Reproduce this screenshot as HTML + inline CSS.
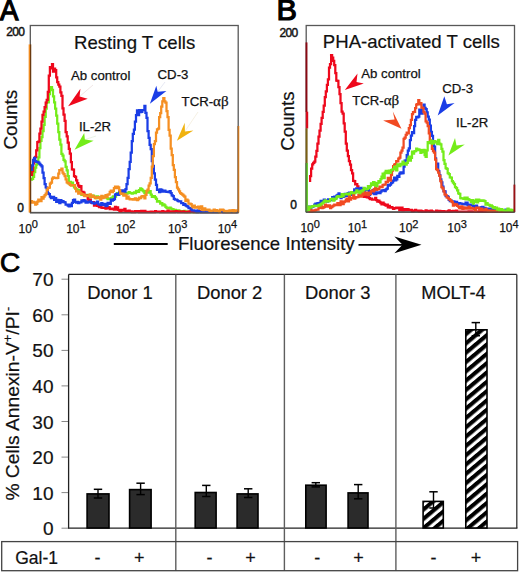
<!DOCTYPE html>
<html><head><meta charset="utf-8"><title>Figure</title>
<style>
html,body{margin:0;padding:0;background:#fff;}
body{width:520px;height:573px;overflow:hidden;font-family:"Liberation Sans", sans-serif;}
svg{display:block;}
text{stroke:#111;stroke-width:0.2px;}
text.sm{stroke-width:0.25px;}
text.bd{stroke:none;}
</style></head><body>
<svg width="520" height="573" viewBox="0 0 520 573" font-family="Liberation Sans, sans-serif" fill="#111">
<defs><pattern id="hatch" patternUnits="userSpaceOnUse" width="7.14" height="7.14" patternTransform="translate(476,450) rotate(-40) translate(0,2.67)"><rect width="7.14" height="7.14" fill="#fff"/><rect width="7.14" height="4.07" fill="#000"/></pattern></defs>
<rect width="520" height="573" fill="#fff"/>
<text x="0" y="19.7" font-size="30" fill="#000" style="stroke:#000;stroke-width:1.3px" transform="scale(0.92 1)">A</text>
<text x="6.3" y="36.2" font-size="12.0" class="sm" text-anchor="start" letter-spacing="-0.7" style="stroke-width:0.45px">200</text>
<text x="17.3" y="211.7" font-size="12.0" class="sm" text-anchor="start" style="stroke-width:0.45px">0</text>
<text transform="translate(17.2,149.6) rotate(-90)" font-size="18.9">Counts</text>
<rect x="30.3" y="25.5" width="207.9" height="187.0" fill="none" stroke="#585858" stroke-width="1.3"/>
<path d="M31.0 179.7H32.0V178.8H33.1V176.8H34.1V172.0H35.2V167.6H36.2V164.7H37.3V161.2H38.3V157.4H39.4V148.0H40.4V140.9H41.5V137.2H42.5V131.0H43.6V124.8H44.6V116.8H45.7V108.5H46.7V102.3H47.8V102.3H48.8V94.2H49.9V90.0H50.9V87.0H52.0V89.8H53.0V96.4H54.1V102.4H55.1V108.5H56.2V115.6H57.2V123.5H58.3V132.1H59.3V139.6H60.4V144.5H61.4V153.9H62.5V155.7H63.5V159.8H64.6V161.3H65.6V166.8H66.7V170.4H67.7V176.2H68.8V183.6H69.8V181.8H70.9V183.8H71.9V182.6H73.0V185.0H74.0V187.4H75.1V188.0H76.1V189.4H77.2V190.1H78.2V190.0H79.3V192.4H80.3V191.9H81.4V194.9H82.4V193.3H83.5V194.8H84.5V194.8H85.6V195.9H86.6V194.8H87.7V196.4H88.7V195.6H89.8V197.0H90.8V196.6H91.9V196.3H92.9V195.6H94.0V197.0H95.0V196.9H96.1V198.0H97.1V196.4H98.2V197.3H99.2V197.3H100.3V197.3H101.3V197.3H102.4V197.4H103.4V196.8H104.5V196.6H105.5V197.2H106.6V198.1H107.6V199.0H108.7V198.7H109.7V198.8H110.8V198.2H111.8V197.5H112.9V196.4H113.9V196.3H115.0V196.5H116.0V194.1H117.1V193.1H118.1V194.9H119.2V192.7H120.2V192.9H121.3V193.0H122.3V191.5H123.4V194.9H124.4V194.5H125.5V193.2H126.5V193.7H127.6V193.1H128.6V192.2H129.7V192.9H130.7V193.2H131.8V193.6H132.8V193.1H133.9V192.3H134.9V193.2H136.0V190.9H137.0V191.9H138.1V191.8H139.1V190.1H140.2V188.3H141.2V189.2H142.3V190.4H143.3V191.4H144.4V193.0H145.4V191.1H146.5V192.0H147.5V192.6H148.6V192.3H149.6V191.1H150.7V194.7H151.8V196.8H152.8V196.6H153.9V196.0H154.9V197.4H156.0V198.9H157.0V201.7H158.1V201.1H159.1V201.6H160.2V203.5H161.2V203.2H162.3V205.4H163.3V204.4H164.4V205.4H165.4V206.9H166.5V207.9H167.5V208.0H168.6V208.4H169.6V207.7H170.7V208.7H171.7V209.0H172.8V209.3H173.8V210.1H174.9V209.8H175.9V210.6H177.0V210.4H178.0V210.4H179.1V210.9H180.1V211.2H181.2V211.5H182.2V211.0H183.3V211.2H184.3V210.8H185.4V212.0H186.4V212.0H187.5V211.7H188.5V211.6H189.6V211.5H190.6V212.0H191.7V212.0H192.7V212.0H193.8V212.0H194.8V211.7H195.9V211.1H196.9V212.0H198.0V212.0H199.0V211.4H200.1V212.0H201.1V211.4H202.2V212.0H203.2V212.0H204.3V212.0H205.3V211.9H206.4V211.2H207.4V212.0H208.5V211.4H209.5V212.0H210.6V211.2H211.6V211.7H212.7V212.0H213.7V212.0H214.8V211.6H215.8V211.4H216.9V212.0H217.9V212.0H219.0V211.6H220.0V211.7H221.1V211.7H222.1V211.6H223.2V211.7H224.2V212.0H225.3V212.0H226.3V212.0H227.4V212.0H228.4V211.9H229.5V211.6H230.5V212.0H231.6V211.5H232.6V211.3H233.7V212.0H234.7V212.0H235.8V212.0H236.8V212.0H237.5" stroke="#74ec1a" stroke-width="2.25" fill="none" stroke-linejoin="miter"/>
<path d="M31.0 174.8H32.0V171.1H33.1V163.3H34.1V158.0H35.2V156.8H36.2V150.3H37.3V142.1H38.3V141.7H39.4V133.7H40.4V128.6H41.5V121.5H42.5V114.8H43.6V111.5H44.6V107.0H45.7V102.7H46.7V99.8H47.8V91.8H48.8V75.7H49.9V67.1H50.9V68.4H52.0V64.2H53.0V71.5H54.1V68.5H55.1V70.1H56.2V77.3H57.2V82.0H58.3V84.5H59.3V86.6H60.4V92.4H61.4V95.9H62.5V108.4H63.5V114.7H64.6V120.9H65.6V132.2H66.7V136.3H67.7V142.5H68.8V148.8H69.8V153.7H70.9V162.1H71.9V169.3H73.0V169.7H74.0V176.1H75.1V176.9H76.1V180.4H77.2V183.1H78.2V185.7H79.3V187.1H80.3V186.0H81.4V192.7H82.4V191.8H83.5V192.6H84.5V195.6H85.6V195.3H86.6V195.7H87.7V199.3H88.7V200.2H89.8V199.7H90.8V202.5H91.9V202.9H92.9V202.0H94.0V205.7H95.0V204.8H96.1V203.9H97.1V205.9H98.2V206.0H99.2V207.2H100.3V205.3H101.3V207.7H102.4V207.8H103.4V207.7H104.5V207.8H105.5V208.6H106.6V208.2H107.6V207.8H108.7V207.1H109.7V209.0H110.8V209.1H111.8V208.7H112.9V208.8H113.9V209.5H115.0V206.9H116.0V209.5H117.1V207.4H118.1V209.9H119.2V210.7H120.2V211.6H121.3V209.8H122.3V210.7H123.4V210.4H124.4V208.9H125.5V211.3H126.5V210.9H127.6V211.1H128.6V210.5H129.7V211.3H130.7V211.4H131.8V212.0H132.8V211.6H133.9V212.0H134.9V211.2H136.0V211.4H137.0V211.5H138.1V211.1H139.1V212.0H140.2V212.0H141.2V210.9H142.3V211.8H143.3V212.0H144.4V210.9H145.4V212.0H146.5V211.8H147.5V212.0H148.6V212.0H149.6V211.8H150.7V211.7H151.8V212.0H152.8V211.8H153.9V212.0H154.9V211.2H156.0V211.9H157.0V211.9H158.1V211.6H159.1V211.9H160.2V212.0H161.2V211.7H162.3V211.2H163.3V212.0H164.4V212.0H165.4V211.6H166.5V212.0H167.5V210.6H168.6V212.0H169.6V211.3H170.7V211.7H171.7V212.0H172.8V211.3H173.8V212.0H174.9V211.4H175.9V211.0H177.0V211.4H178.0V212.0H179.1V211.3H180.1V211.7H181.2V212.0H182.2V211.9H183.3V211.3H184.3V212.0H185.4V212.0H186.4V212.0H187.5V211.5H188.5V212.0H189.6V211.3H190.6V211.1H191.7V211.8H192.7V211.8H193.8V212.0H194.8V211.7H195.9V212.0H196.9V212.0H198.0V211.7H199.0V211.3H200.1V211.8H201.1V212.0H202.2V212.0H203.2V211.8H204.3V211.5H205.3V212.0H206.4V212.0H207.4V211.6H208.5V212.0H209.5V212.0H210.6V212.0H211.6V211.7H212.7V212.0H213.7V212.0H214.8V211.2H215.8V212.0H216.9V211.8H217.9V212.0H219.0V212.0H220.0V211.7H221.1V212.0H222.1V211.8H223.2V211.6H224.2V212.0H225.3V212.0H226.3V212.0H227.4V212.0H228.4V211.7H229.5V212.0H230.5V212.0H231.6V212.0H232.6V212.0H233.7V212.0H234.7V211.2H235.8V212.0H236.8V212.0H237.5" stroke="#ee081c" stroke-width="2.25" fill="none" stroke-linejoin="miter"/>
<path d="M31.0 169.9H32.0V165.3H33.1V159.8H34.1V157.8H35.2V161.0H36.2V161.9H37.3V161.8H38.3V162.7H39.4V163.9H40.4V165.1H41.5V166.4H42.5V172.5H43.6V178.1H44.6V184.2H45.7V187.3H46.7V188.3H47.8V193.4H48.8V194.1H49.9V196.7H50.9V198.2H52.0V198.2H53.0V196.8H54.1V199.8H55.1V198.1H56.2V201.8H57.2V199.9H58.3V200.8H59.3V203.2H60.4V200.0H61.4V202.0H62.5V201.2H63.5V202.0H64.6V202.3H65.6V204.6H66.7V204.6H67.7V205.7H68.8V206.3H69.8V204.6H70.9V206.0H71.9V202.9H73.0V200.0H74.0V199.5H75.1V201.8H76.1V202.7H77.2V201.8H78.2V203.0H79.3V202.4H80.3V202.4H81.4V200.4H82.4V201.3H83.5V200.0H84.5V200.7H85.6V202.6H86.6V202.7H87.7V201.6H88.7V202.0H89.8V201.4H90.8V202.2H91.9V203.0H92.9V202.8H94.0V203.5H95.0V202.7H96.1V202.9H97.1V201.5H98.2V204.4H99.2V204.4H100.3V205.2H101.3V203.2H102.4V204.6H103.4V204.8H104.5V203.9H105.5V206.1H106.6V205.7H107.6V202.8H108.7V203.7H109.7V203.9H110.8V199.6H111.8V200.6H112.9V199.9H113.9V199.2H115.0V194.6H116.0V193.9H117.1V194.5H118.1V194.9H119.2V191.3H120.2V191.2H121.3V190.4H122.3V192.7H123.4V190.4H124.4V191.6H125.5V189.0H126.5V184.2H127.6V177.8H128.6V169.0H129.7V161.9H130.7V152.7H131.8V141.2H132.8V133.9H133.9V129.6H134.9V121.6H136.0V115.1H137.0V110.4H138.1V115.2H139.1V110.0H140.2V112.2H141.2V111.9H142.3V110.2H143.3V110.1H144.4V105.9H145.4V112.8H146.5V117.9H147.5V131.2H148.6V137.9H149.6V144.9H150.7V149.1H151.8V161.1H152.8V165.8H153.9V173.4H154.9V179.5H156.0V184.8H157.0V189.9H158.1V189.7H159.1V192.0H160.2V189.3H161.2V189.9H162.3V191.5H163.3V190.8H164.4V190.6H165.4V191.5H166.5V191.8H167.5V191.8H168.6V192.2H169.6V191.1H170.7V193.1H171.7V195.3H172.8V196.1H173.8V198.8H174.9V199.6H175.9V199.5H177.0V200.3H178.0V201.2H179.1V201.3H180.1V201.3H181.2V203.2H182.2V203.2H183.3V204.8H184.3V204.2H185.4V205.4H186.4V206.2H187.5V206.6H188.5V208.0H189.6V208.1H190.6V209.0H191.7V210.3H192.7V210.4H193.8V210.6H194.8V210.5H195.9V211.7H196.9V212.0H198.0V210.4H199.0V212.0H200.1V212.0H201.1V212.0H202.2V212.0H203.2V211.5H204.3V212.0H205.3V211.8H206.4V211.9H207.4V212.0H208.5V212.0H209.5V212.0H210.6V211.8H211.6V211.5H212.7V212.0H213.7V211.5H214.8V212.0H215.8V212.0H216.9V212.0H217.9V211.4H219.0V211.0H220.0V210.9H221.1V211.9H222.1V211.4H223.2V212.0H224.2V211.3H225.3V211.4H226.3V212.0H227.4V211.9H228.4V212.0H229.5V212.0H230.5V212.0H231.6V211.4H232.6V211.6H233.7V212.0H234.7V211.9H235.8V212.0H236.8V212.0H237.5" stroke="#1a3de6" stroke-width="2.25" fill="none" stroke-linejoin="miter"/>
<path d="M31.0 201.2H32.0V202.5H33.1V201.8H34.1V202.4H35.2V204.6H36.2V203.8H37.3V201.7H38.3V199.7H39.4V199.9H40.4V201.0H41.5V197.1H42.5V198.6H43.6V196.7H44.6V195.1H45.7V193.5H46.7V189.9H47.8V187.9H48.8V187.7H49.9V183.6H50.9V182.5H52.0V178.6H53.0V177.3H54.1V177.9H55.1V177.9H56.2V178.1H57.2V177.9H58.3V173.6H59.3V170.1H60.4V170.1H61.4V168.7H62.5V172.6H63.5V174.1H64.6V176.2H65.6V179.3H66.7V182.3H67.7V183.2H68.8V183.3H69.8V184.9H70.9V185.6H71.9V185.2H73.0V185.1H74.0V185.0H75.1V188.7H76.1V191.3H77.2V191.3H78.2V193.7H79.3V191.9H80.3V193.2H81.4V194.0H82.4V194.0H83.5V195.0H84.5V196.0H85.6V196.0H86.6V195.5H87.7V195.5H88.7V195.9H89.8V194.4H90.8V196.5H91.9V195.6H92.9V196.9H94.0V196.5H95.0V198.1H96.1V197.6H97.1V197.7H98.2V197.2H99.2V198.1H100.3V199.6H101.3V195.9H102.4V198.1H103.4V197.6H104.5V196.7H105.5V195.1H106.6V197.1H107.6V194.6H108.7V194.4H109.7V191.8H110.8V190.6H111.8V192.0H112.9V190.9H113.9V188.2H115.0V186.7H116.0V188.1H117.1V186.7H118.1V187.3H119.2V190.4H120.2V193.3H121.3V193.8H122.3V193.6H123.4V195.5H124.4V194.5H125.5V194.9H126.5V198.7H127.6V196.6H128.6V198.5H129.7V199.3H130.7V199.1H131.8V199.2H132.8V199.7H133.9V199.6H134.9V198.4H136.0V198.8H137.0V200.0H138.1V199.1H139.1V197.7H140.2V198.0H141.2V196.7H142.3V196.1H143.3V196.6H144.4V198.3H145.4V194.8H146.5V190.9H147.5V189.7H148.6V185.7H149.6V183.4H150.7V177.8H151.8V166.6H152.8V156.2H153.9V144.2H154.9V141.0H156.0V132.5H157.0V129.4H158.1V128.6H159.1V117.1H160.2V113.2H161.2V106.5H162.3V101.4H163.3V98.1H164.4V101.4H165.4V102.6H166.5V111.0H167.5V117.2H168.6V129.8H169.6V135.6H170.7V148.7H171.7V155.2H172.8V165.0H173.8V169.8H174.9V177.1H175.9V182.1H177.0V187.5H178.0V189.3H179.1V191.4H180.1V193.1H181.2V193.9H182.2V194.7H183.3V195.5H184.3V196.5H185.4V201.1H186.4V199.7H187.5V200.7H188.5V203.5H189.6V203.7H190.6V204.1H191.7V206.0H192.7V207.3H193.8V205.5H194.8V207.5H195.9V207.1H196.9V207.7H198.0V206.6H199.0V208.7H200.1V208.7H201.1V206.3H202.2V209.6H203.2V210.0H204.3V208.3H205.3V209.7H206.4V209.6H207.4V210.1H208.5V209.6H209.5V210.8H210.6V211.0H211.6V210.5H212.7V210.6H213.7V209.6H214.8V211.2H215.8V210.1H216.9V211.0H217.9V210.5H219.0V212.0H220.0V209.7H221.1V210.2H222.1V209.7H223.2V210.4H224.2V211.5H225.3V211.0H226.3V212.0H227.4V210.9H228.4V212.0H229.5V210.3H230.5V210.4H231.6V211.4H232.6V210.2H233.7V212.0H234.7V211.3H235.8V210.3H236.8V210.5H237.5" stroke="#f58f22" stroke-width="2.25" fill="none" stroke-linejoin="miter"/>
<line x1="79.6" y1="96.5" x2="93.0" y2="85.0" stroke="#ecdfe0" stroke-width="0.8"/><polygon points="68.1,106.2 80.4,88.8 79.6,96.5 87.7,98.7" fill="#ee081c"/>
<line x1="84.9" y1="139.6" x2="96.0" y2="136.0" stroke="#e4f0de" stroke-width="0.8"/><polygon points="74.5,149.7 84.2,132.9 84.9,139.6 93.6,140.7" fill="#74ec1a"/>
<line x1="157.7" y1="91.7" x2="165.0" y2="82.0" stroke="#e0e2f0" stroke-width="0.8"/><polygon points="149.9,103.8 156.3,85.7 157.7,91.7 166.4,91.0" fill="#1a3de6"/>
<line x1="184.9" y1="131.4" x2="198.0" y2="112.0" stroke="#f2ecdc" stroke-width="0.8"/><polygon points="176.9,140.8 184.7,122.8 184.9,131.4 193.4,130.6" fill="#f0b20f"/>
<line x1="29.4" y1="44.4" x2="29.4" y2="212.5" stroke="#f58f22" stroke-width="1.5"/>
<line x1="30.6" y1="44.4" x2="30.6" y2="213" stroke="#6a3a10" stroke-width="1.3"/>
<line x1="238.6" y1="126" x2="238.6" y2="212.5" stroke="#f58f22" stroke-width="1.4"/>
<line x1="238.0" y1="126" x2="238.0" y2="212.5" stroke="#7a4a20" stroke-width="0.8"/>
<line x1="30" y1="212.9" x2="238.6" y2="212.9" stroke="#555" stroke-width="1.3"/>
<text x="74.0" y="48.7" font-size="18.6" text-anchor="start">Resting T cells</text>
<text x="71.0" y="79.6" font-size="13.2" class="sm" text-anchor="start">Ab control</text>
<text x="78.9" y="130.9" font-size="13.2" class="sm" text-anchor="start">IL-2R</text>
<text x="157.6" y="79.2" font-size="13.2" class="sm" text-anchor="start">CD-3</text>
<text x="181.6" y="105.5" font-size="13.2" class="sm" text-anchor="start">TCR-<tspan font-family="Liberation Serif, serif" font-size="15">&#945;&#946;</tspan></text>
<text class="sm" x="18.5" y="232.6" font-size="12.0">10<tspan font-size="11.0" dy="-4.2">0</tspan></text>
<text class="sm" x="66.2" y="232.6" font-size="12.0">10<tspan font-size="11.0" dy="-4.2">1</tspan></text>
<text class="sm" x="115.9" y="232.6" font-size="12.0">10<tspan font-size="11.0" dy="-4.2">2</tspan></text>
<text class="sm" x="167.9" y="232.6" font-size="12.0">10<tspan font-size="11.0" dy="-4.2">3</tspan></text>
<text class="sm" x="217.7" y="232.6" font-size="12.0">10<tspan font-size="11.0" dy="-4.2">4</tspan></text>
<text x="276.6" y="19.8" font-size="29.2" fill="#000" style="stroke:#000;stroke-width:1.2px" transform="translate(276.6 0) scale(1.05 1) translate(-276.6 0)">B</text>
<text x="279.5" y="36.5" font-size="12.0" class="sm" text-anchor="start" letter-spacing="-0.7" style="stroke-width:0.45px">200</text>
<text x="290.3" y="208.6" font-size="12.0" class="sm" text-anchor="start" style="stroke-width:0.45px">0</text>
<text transform="translate(294.0,150.7) rotate(-90)" font-size="18.7">Counts</text>
<rect x="306.2" y="25.5" width="208.3" height="186.5" fill="none" stroke="#585858" stroke-width="1.3"/>
<path d="M309.0 180.9H310.1V176.1H311.1V168.6H312.2V164.4H313.2V162.9H314.3V161.6H315.3V156.5H316.4V150.8H317.4V143.7H318.5V136.7H319.5V130.6H320.6V123.8H321.6V117.8H322.7V111.8H323.7V105.7H324.8V97.0H325.8V91.4H326.9V84.9H327.9V79.3H329.0V67.5H330.0V64.0H331.1V55.0H332.1V57.6H333.2V60.8H334.2V65.2H335.3V73.0H336.3V80.6H337.4V80.8H338.4V87.0H339.5V94.1H340.5V103.0H341.6V111.6H342.6V113.5H343.7V123.3H344.7V131.7H345.8V143.5H346.8V150.6H347.9V156.2H348.9V161.2H350.0V164.5H351.0V170.2H352.1V173.4H353.1V180.8H354.2V181.0H355.2V184.4H356.3V184.2H357.3V186.3H358.4V188.6H359.4V191.6H360.5V192.9H361.5V193.7H362.6V193.7H363.6V196.8H364.7V194.6H365.7V195.4H366.8V197.3H367.8V196.5H368.9V198.1H369.9V199.2H371.0V198.7H372.0V199.6H373.1V199.7H374.1V199.6H375.2V197.8H376.2V200.0H377.3V201.5H378.3V200.6H379.4V201.9H380.4V203.0H381.5V204.4H382.5V202.6H383.6V203.8H384.6V204.8H385.7V205.5H386.7V204.5H387.8V207.4H388.8V205.9H389.9V207.7H390.9V207.1H392.0V207.7H393.0V208.8H394.1V208.3H395.1V208.1H396.2V207.6H397.2V208.0H398.3V207.7H399.3V210.2H400.4V208.0H401.4V207.5H402.5V210.3H403.5V210.2H404.6V209.2H405.6V210.1H406.7V209.2H407.7V209.4H408.8V210.2H409.8V210.2H410.9V209.8H411.9V211.2H413.0V210.8H414.0V210.5H415.1V209.8H416.1V210.7H417.2V210.6H418.2V210.8H419.3V211.4H420.3V210.7H421.4V211.2H422.4V211.5H423.5V211.4H424.5V211.5H425.6V210.4H426.6V211.3H427.7V210.8H428.7V211.4H429.8V211.5H430.8V210.7H431.9V211.4H432.9V211.5H434.0V211.5H435.0V211.5H436.1V210.7H437.1V211.5H438.2V211.1H439.2V210.9H440.3V211.5H441.3V211.5H442.4V211.2H443.4V211.2H444.5V211.5H445.5V211.5H446.6V211.5H447.6V211.1H448.7V210.4H449.7V211.5H450.8V211.5H451.8V211.0H452.9V210.8H453.9V211.3H455.0V211.4H456.0V210.6H457.1V211.5H458.1V211.5H459.2V211.5H460.2V211.5H461.3V211.5H462.3V211.5H463.4V211.5H464.4V211.5H465.5V211.5H466.5V211.5H467.6V211.5H468.6V211.3H469.7V211.5H470.7V211.4H471.8V211.5H472.8V211.5H473.9V211.5H474.9V211.2H476.0V211.5H477.0V211.5H478.1V211.5H479.1V211.5H480.2V210.8H481.2V211.5H482.3V211.0H483.3V211.5H484.4V211.5H485.4V211.5H486.5V211.5H487.5V211.5H488.6V211.5H489.6V211.5H490.7V211.5H491.7V211.5H492.8V211.5H493.8V211.5H494.9V211.5H495.9V211.5H497.0V211.5H498.0V211.3H499.1V211.5H500.1V211.5H501.2V211.5H502.2V211.5H503.3V211.5H504.3V211.5H505.4V210.7H506.4V211.5H507.5V211.5H508.5V211.4H509.6V211.5H510.6V211.5H511.7V211.5H512.7V211.5H513.5" stroke="#ee081c" stroke-width="2.25" fill="none" stroke-linejoin="miter"/>
<path d="M308.0 207.5H309.1V206.7H310.1V210.1H311.2V207.1H312.2V206.6H313.3V206.2H314.3V204.5H315.4V203.7H316.4V204.5H317.5V203.2H318.5V204.3H319.6V202.9H320.6V200.9H321.7V201.1H322.7V201.3H323.8V199.6H324.8V201.4H325.9V200.7H326.9V201.7H328.0V199.3H329.0V199.6H330.1V200.2H331.1V199.8H332.2V197.2H333.2V199.8H334.3V196.6H335.3V198.2H336.4V195.7H337.4V194.8H338.5V193.4H339.5V194.8H340.6V198.1H341.6V194.2H342.7V196.9H343.7V196.4H344.8V193.9H345.8V195.7H346.9V195.9H347.9V193.2H349.0V192.5H350.0V194.3H351.1V192.9H352.1V194.8H353.2V192.0H354.2V189.3H355.3V190.3H356.3V188.3H357.4V190.7H358.4V190.4H359.5V188.6H360.5V187.9H361.6V190.6H362.6V189.1H363.7V191.6H364.7V188.8H365.8V190.1H366.8V190.0H367.9V189.5H368.9V195.0H370.0V193.8H371.0V190.9H372.1V193.1H373.1V189.8H374.2V194.1H375.2V194.0H376.3V192.3H377.3V192.4H378.4V193.2H379.4V193.0H380.5V191.5H381.5V190.3H382.6V190.7H383.6V190.0H384.7V191.2H385.7V189.4H386.8V188.6H387.8V184.8H388.9V185.6H389.9V184.5H391.0V183.0H392.0V182.3H393.1V180.7H394.1V177.5H395.2V180.4H396.2V179.3H397.3V175.9H398.3V176.8H399.4V173.6H400.4V172.3H401.5V173.3H402.5V173.1H403.6V166.7H404.6V160.6H405.7V160.4H406.7V155.1H407.8V150.5H408.8V148.4H409.9V140.0H410.9V135.7H412.0V132.0H413.0V133.1H414.1V126.1H415.1V119.9H416.2V116.9H417.2V117.3H418.3V116.5H419.3V109.7H420.4V109.9H421.4V113.5H422.5V108.1H423.5V104.5H424.6V107.9H425.6V109.2H426.7V112.3H427.7V116.5H428.8V119.6H429.8V125.5H430.9V131.9H431.9V135.9H433.0V142.9H434.0V146.6H435.1V158.4H436.1V163.9H437.2V163.6H438.2V171.1H439.3V175.0H440.3V179.4H441.4V182.4H442.4V186.7H443.5V191.1H444.5V191.4H445.6V196.1H446.6V196.2H447.7V196.9H448.7V199.8H449.8V201.2H450.8V200.7H451.9V201.6H452.9V201.3H454.0V201.5H455.0V203.6H456.1V201.9H457.1V204.2H458.2V203.7H459.2V203.2H460.3V203.5H461.3V203.6H462.4V204.0H463.4V204.2H464.5V204.3H465.5V202.6H466.6V202.6H467.6V205.3H468.7V204.5H469.7V204.8H470.8V205.3H471.8V204.6H472.9V207.4H473.9V206.1H475.0V206.1H476.0V205.5H477.1V207.6H478.1V207.7H479.2V208.7H480.2V208.3H481.3V207.0H482.3V206.8H483.4V209.4H484.4V207.8H485.5V208.5H486.5V208.7H487.6V209.5H488.6V209.7H489.7V208.6H490.7V209.1H491.8V208.5H492.8V210.5H493.9V210.2H494.9V209.2H496.0V211.5H497.0V210.9H498.1V210.2H499.1V210.7H500.2V210.7H501.2V211.2H502.3V211.4H503.3V210.9H504.4V211.5H505.4V209.7H506.5V211.3H507.5V211.5H508.6V211.5H509.6V211.5H510.7V211.1H511.7V210.8H512.8V211.5H513.5" stroke="#1a3de6" stroke-width="2.25" fill="none" stroke-linejoin="miter"/>
<path d="M308.0 210.7H309.1V209.4H310.1V211.5H311.2V211.5H312.2V210.4H313.3V210.8H314.3V210.6H315.4V209.9H316.4V209.6H317.5V209.5H318.5V207.8H319.6V206.2H320.6V205.8H321.7V208.0H322.7V207.7H323.8V207.1H324.8V204.7H325.9V206.6H326.9V206.6H328.0V205.4H329.0V205.4H330.1V208.2H331.1V207.2H332.2V206.4H333.2V205.7H334.3V204.7H335.3V204.5H336.4V205.2H337.4V203.1H338.5V203.4H339.5V205.1H340.6V201.3H341.6V201.5H342.7V204.0H343.7V202.0H344.8V201.3H345.8V199.7H346.9V198.5H347.9V201.3H349.0V196.2H350.0V199.6H351.1V197.9H352.1V198.0H353.2V195.1H354.2V198.5H355.3V197.7H356.3V197.1H357.4V197.1H358.4V194.5H359.5V196.3H360.5V196.5H361.6V195.4H362.6V190.9H363.7V194.6H364.7V194.6H365.8V192.5H366.8V193.7H367.9V195.0H368.9V192.7H370.0V194.2H371.0V191.2H372.1V190.4H373.1V191.3H374.2V189.1H375.2V187.4H376.3V189.9H377.3V188.8H378.4V189.2H379.4V186.5H380.5V186.5H381.5V187.2H382.6V185.0H383.6V184.6H384.7V184.6H385.7V181.9H386.8V182.1H387.8V177.9H388.9V179.1H389.9V180.7H391.0V174.8H392.0V170.5H393.1V166.0H394.1V164.7H395.2V164.2H396.2V161.1H397.3V161.4H398.3V158.6H399.4V157.6H400.4V152.7H401.5V150.6H402.5V147.5H403.6V138.8H404.6V137.5H405.7V134.9H406.7V132.6H407.8V133.3H408.8V128.1H409.9V125.0H410.9V119.8H412.0V114.2H413.0V112.0H414.1V111.8H415.1V108.2H416.2V104.5H417.2V104.2H418.3V100.1H419.3V104.3H420.4V103.1H421.4V107.5H422.5V107.9H423.5V112.2H424.6V113.6H425.6V121.3H426.7V122.7H427.7V126.2H428.8V133.3H429.8V140.4H430.9V141.4H431.9V148.8H433.0V151.2H434.0V152.6H435.1V159.5H436.1V169.1H437.2V170.2H438.2V172.7H439.3V175.9H440.3V181.2H441.4V187.2H442.4V188.4H443.5V191.4H444.5V194.3H445.6V195.0H446.6V197.4H447.7V197.9H448.7V199.1H449.8V199.9H450.8V201.2H451.9V202.1H452.9V205.5H454.0V203.9H455.0V205.1H456.1V204.4H457.1V205.9H458.2V206.7H459.2V208.1H460.3V208.4H461.3V206.4H462.4V208.8H463.4V207.4H464.5V208.7H465.5V207.6H466.6V208.5H467.6V207.8H468.7V206.7H469.7V208.6H470.8V207.8H471.8V208.1H472.9V208.5H473.9V208.8H475.0V210.7H476.0V207.5H477.1V208.1H478.1V207.7H479.2V209.9H480.2V208.8H481.3V208.7H482.3V209.9H483.4V209.8H484.4V210.4H485.5V208.9H486.5V210.4H487.6V211.1H488.6V210.4H489.7V211.5H490.7V210.9H491.8V210.5H492.8V210.8H493.9V211.5H494.9V211.5H496.0V211.0H497.0V211.5H498.1V211.2H499.1V210.9H500.2V210.9H501.2V211.5H502.3V211.3H503.3V211.5H504.4V211.5H505.4V211.5H506.5V211.5H507.5V211.5H508.6V211.5H509.6V210.5H510.7V211.5H511.7V211.5H512.8V211.5H513.5" stroke="#f14a22" stroke-width="2.25" fill="none" stroke-linejoin="miter"/>
<path d="M308.0 209.9H309.1V206.7H310.1V207.7H311.2V206.9H312.2V206.0H313.3V206.0H314.3V205.7H315.4V205.8H316.4V205.8H317.5V206.0H318.5V204.8H319.6V205.3H320.6V204.2H321.7V203.4H322.7V202.6H323.8V201.4H324.8V200.3H325.9V201.6H326.9V201.2H328.0V201.4H329.0V201.1H330.1V199.0H331.1V199.3H332.2V198.5H333.2V200.6H334.3V199.0H335.3V198.9H336.4V197.2H337.4V196.2H338.5V196.5H339.5V196.6H340.6V196.8H341.6V194.1H342.7V196.0H343.7V194.3H344.8V194.4H345.8V194.2H346.9V193.6H347.9V194.3H349.0V194.4H350.0V193.3H351.1V192.0H352.1V193.0H353.2V192.8H354.2V193.2H355.3V192.3H356.3V190.3H357.4V191.7H358.4V192.1H359.5V193.0H360.5V190.9H361.6V191.4H362.6V190.1H363.7V187.8H364.7V189.1H365.8V189.4H366.8V188.8H367.9V186.0H368.9V188.0H370.0V186.0H371.0V183.3H372.1V184.8H373.1V182.2H374.2V182.6H375.2V185.7H376.3V186.2H377.3V183.1H378.4V181.2H379.4V182.3H380.5V179.1H381.5V176.5H382.6V173.7H383.6V178.1H384.7V172.7H385.7V170.8H386.8V173.1H387.8V173.2H388.9V170.7H389.9V172.7H391.0V170.0H392.0V169.6H393.1V169.2H394.1V166.6H395.2V167.2H396.2V170.3H397.3V164.4H398.3V165.8H399.4V166.0H400.4V163.9H401.5V164.5H402.5V161.5H403.6V163.4H404.6V164.0H405.7V164.5H406.7V162.9H407.8V158.9H408.8V156.5H409.9V160.5H410.9V157.8H412.0V151.7H413.0V153.5H414.1V151.4H415.1V151.2H416.2V148.5H417.2V150.2H418.3V149.3H419.3V149.8H420.4V152.8H421.4V152.0H422.5V150.1H423.5V149.8H424.6V155.1H425.6V156.8H426.7V150.4H427.7V142.0H428.8V143.2H429.8V141.9H430.9V140.7H431.9V143.6H433.0V143.4H434.0V141.0H435.1V141.7H436.1V142.4H437.2V144.1H438.2V139.8H439.3V143.6H440.3V144.4H441.4V148.9H442.4V151.7H443.5V160.2H444.5V163.9H445.6V168.0H446.6V168.9H447.7V173.0H448.7V174.0H449.8V177.3H450.8V177.7H451.9V181.0H452.9V182.7H454.0V184.0H455.0V187.0H456.1V188.2H457.1V190.3H458.2V193.3H459.2V193.9H460.3V198.0H461.3V198.4H462.4V198.3H463.4V198.8H464.5V197.6H465.5V199.3H466.6V197.7H467.6V199.0H468.7V199.6H469.7V200.1H470.8V201.8H471.8V200.1H472.9V203.7H473.9V200.6H475.0V202.2H476.0V199.7H477.1V202.3H478.1V199.6H479.2V200.8H480.2V200.3H481.3V200.9H482.3V200.3H483.4V200.6H484.4V201.2H485.5V204.6H486.5V203.2H487.6V204.7H488.6V204.8H489.7V205.9H490.7V205.4H491.8V206.4H492.8V207.8H493.9V207.2H494.9V208.4H496.0V207.6H497.0V209.6H498.1V208.5H499.1V210.3H500.2V209.4H501.2V209.1H502.3V210.0H503.3V210.3H504.4V210.7H505.4V210.6H506.5V210.3H507.5V208.7H508.6V210.5H509.6V209.7H510.7V210.2H511.7V211.0H512.8V209.8H513.5" stroke="#74ec1a" stroke-width="2.25" fill="none" stroke-linejoin="miter"/>
<polygon points="344.8,89.9 357.5,73.6 356.5,82.0 363.8,83.6" fill="#ee081c"/>
<polygon points="401.5,128.8 392.8,111.6 394.6,119.6 383.1,120.4" fill="#f14a22"/>
<polygon points="437.7,115.4 444.3,96.2 446.9,104.2 454.6,103.1" fill="#1a3de6"/>
<polygon points="448.4,155.5 455.0,138.0 456.5,145.5 464.8,144.6" fill="#74ec1a"/>
<line x1="306.5" y1="42.4" x2="306.5" y2="112" stroke="#8a0812" stroke-width="1.9"/>
<line x1="307.0" y1="111.7" x2="307.0" y2="128.5" stroke="#d80c1c" stroke-width="2.4"/>
<line x1="306.6" y1="128.5" x2="306.6" y2="163" stroke="#7a6014" stroke-width="2.0"/>
<line x1="306.0" y1="163" x2="306.0" y2="212" stroke="#2a5a10" stroke-width="1.0"/><line x1="307.2" y1="163" x2="307.2" y2="212" stroke="#5cc820" stroke-width="1.4"/>
<line x1="514.4" y1="184.6" x2="514.4" y2="212" stroke="#9a1014" stroke-width="1.8"/>
<line x1="306" y1="212.2" x2="514.6" y2="212.2" stroke="#444" stroke-width="1.3"/>
<text x="322.8" y="48.2" font-size="18.6" text-anchor="start">PHA-activated T cells</text>
<text x="361.3" y="77.8" font-size="13.2" class="sm" text-anchor="start">Ab control</text>
<text x="352.2" y="104.7" font-size="13.2" class="sm" text-anchor="start">TCR-<tspan font-family="Liberation Serif, serif" font-size="15">&#945;&#946;</tspan></text>
<text x="442.3" y="93.1" font-size="13.2" class="sm" text-anchor="start">CD-3</text>
<text x="456.0" y="127.0" font-size="13.2" class="sm" text-anchor="start">IL-2R</text>
<text class="sm" x="300.4" y="232.3" font-size="12.0">10<tspan font-size="11.0" dy="-4.2">0</tspan></text>
<text class="sm" x="347.7" y="232.3" font-size="12.0">10<tspan font-size="11.0" dy="-4.2">1</tspan></text>
<text class="sm" x="399.0" y="232.3" font-size="12.0">10<tspan font-size="11.0" dy="-4.2">2</tspan></text>
<text class="sm" x="447.3" y="232.3" font-size="12.0">10<tspan font-size="11.0" dy="-4.2">3</tspan></text>
<text class="sm" x="499.2" y="232.3" font-size="12.0">10<tspan font-size="11.0" dy="-4.2">4</tspan></text>
<line x1="113.8" y1="244" x2="167.7" y2="244" stroke="#000" stroke-width="1.8"/>
<text x="177.9" y="249.5" font-size="18.6" text-anchor="start">Fluoresence Intensity</text>
<line x1="358.5" y1="244.8" x2="405" y2="244.8" stroke="#000" stroke-width="1.8"/>
<polygon points="394.4,236.5 421.5,244.8 394.4,253.3 402.5,244.8" fill="#000"/>
<text x="-0.3" y="271.9" font-size="28.5" fill="#000" style="stroke:#000;stroke-width:0.7px">C</text>
<line x1="61.5" y1="528.2" x2="68.5" y2="528.2" stroke="#888" stroke-width="1"/>
<text x="53.5" y="535.2" font-size="19.0" text-anchor="end">0</text>
<line x1="61.5" y1="492.6" x2="68.5" y2="492.6" stroke="#888" stroke-width="1"/>
<text x="53.5" y="499.6" font-size="19.0" text-anchor="end">10</text>
<line x1="61.5" y1="457.1" x2="68.5" y2="457.1" stroke="#888" stroke-width="1"/>
<text x="53.5" y="464.1" font-size="19.0" text-anchor="end">20</text>
<line x1="61.5" y1="421.5" x2="68.5" y2="421.5" stroke="#888" stroke-width="1"/>
<text x="53.5" y="428.5" font-size="19.0" text-anchor="end">30</text>
<line x1="61.5" y1="385.9" x2="68.5" y2="385.9" stroke="#888" stroke-width="1"/>
<text x="53.5" y="392.9" font-size="19.0" text-anchor="end">40</text>
<line x1="61.5" y1="350.4" x2="68.5" y2="350.4" stroke="#888" stroke-width="1"/>
<text x="53.5" y="357.4" font-size="19.0" text-anchor="end">50</text>
<line x1="61.5" y1="314.8" x2="68.5" y2="314.8" stroke="#888" stroke-width="1"/>
<text x="53.5" y="321.8" font-size="19.0" text-anchor="end">60</text>
<line x1="61.5" y1="279.2" x2="68.5" y2="279.2" stroke="#888" stroke-width="1"/>
<text x="53.5" y="286.2" font-size="19.0" text-anchor="end">70</text>
<text transform="translate(19.3,500.6) rotate(-90)" font-size="19.25">% Cells Annexin-V<tspan font-size="13" dy="-7">+</tspan><tspan dy="7">/PI</tspan><tspan font-size="13" dy="-7">-</tspan></text>
<line x1="68.6" y1="274.4" x2="516.8" y2="274.4" stroke="#222" stroke-width="1.3"/>
<line x1="68.6" y1="274.4" x2="68.6" y2="528.2" stroke="#222" stroke-width="1.3"/>
<line x1="516.8" y1="274.4" x2="516.8" y2="528.2" stroke="#333" stroke-width="1.3"/>
<line x1="68" y1="528.1" x2="517.4" y2="528.1" stroke="#222" stroke-width="1.2"/>
<line x1="175.8" y1="274.4" x2="175.8" y2="571" stroke="#5e5e5e" stroke-width="1.4"/>
<line x1="284.4" y1="274.4" x2="284.4" y2="571" stroke="#5e5e5e" stroke-width="1.4"/>
<line x1="395.9" y1="274.4" x2="395.9" y2="571" stroke="#5e5e5e" stroke-width="1.4"/>
<text x="87.2" y="299.2" font-size="18.4" text-anchor="start">Donor 1</text>
<text x="196.9" y="299.2" font-size="18.4" text-anchor="start">Donor 2</text>
<text x="305.0" y="299.2" font-size="18.4" text-anchor="start">Donor 3</text>
<text x="421.3" y="299.2" font-size="18.2" text-anchor="start">MOLT-4</text>
<rect x="87.1" y="493.9" width="21.9" height="34.1" fill="#2b2b2b" stroke="#000" stroke-width="1.6"/><line x1="98.0" y1="489.3" x2="98.0" y2="498.0" stroke="#000" stroke-width="1.4"/><line x1="93.8" y1="489.3" x2="102.2" y2="489.3" stroke="#000" stroke-width="1.5"/><line x1="93.8" y1="498.0" x2="102.2" y2="498.0" stroke="#000" stroke-width="1.5"/>
<rect x="129.6" y="489.6" width="21.5" height="38.4" fill="#2b2b2b" stroke="#000" stroke-width="1.6"/><line x1="140.6" y1="483.2" x2="140.6" y2="494.6" stroke="#000" stroke-width="1.4"/><line x1="136.4" y1="483.2" x2="144.8" y2="483.2" stroke="#000" stroke-width="1.5"/><line x1="136.4" y1="494.6" x2="144.8" y2="494.6" stroke="#000" stroke-width="1.5"/>
<rect x="195.2" y="492.5" width="20.9" height="35.5" fill="#2b2b2b" stroke="#000" stroke-width="1.6"/><line x1="206.3" y1="485.4" x2="206.3" y2="496.5" stroke="#000" stroke-width="1.4"/><line x1="202.1" y1="485.4" x2="210.5" y2="485.4" stroke="#000" stroke-width="1.5"/><line x1="202.1" y1="496.5" x2="210.5" y2="496.5" stroke="#000" stroke-width="1.5"/>
<rect x="237.1" y="493.9" width="20.9" height="34.1" fill="#2b2b2b" stroke="#000" stroke-width="1.6"/><line x1="248.2" y1="488.8" x2="248.2" y2="497.5" stroke="#000" stroke-width="1.4"/><line x1="244.0" y1="488.8" x2="252.4" y2="488.8" stroke="#000" stroke-width="1.5"/><line x1="244.0" y1="497.5" x2="252.4" y2="497.5" stroke="#000" stroke-width="1.5"/>
<rect x="305.8" y="485.2" width="20.3" height="42.8" fill="#2b2b2b" stroke="#000" stroke-width="1.6"/><line x1="315.8" y1="482.7" x2="315.8" y2="486.9" stroke="#000" stroke-width="1.4"/><line x1="311.6" y1="482.7" x2="320.0" y2="482.7" stroke="#000" stroke-width="1.5"/><line x1="311.6" y1="486.9" x2="320.0" y2="486.9" stroke="#000" stroke-width="1.5"/>
<rect x="348.1" y="492.9" width="19.9" height="35.1" fill="#2b2b2b" stroke="#000" stroke-width="1.6"/><line x1="358.2" y1="484.6" x2="358.2" y2="498.8" stroke="#000" stroke-width="1.4"/><line x1="354.0" y1="484.6" x2="362.4" y2="484.6" stroke="#000" stroke-width="1.5"/><line x1="354.0" y1="498.8" x2="362.4" y2="498.8" stroke="#000" stroke-width="1.5"/>
<rect x="423.1" y="501.4" width="20.2" height="26.6" fill="url(#hatch)" stroke="#000" stroke-width="1.6"/><line x1="433.5" y1="491.8" x2="433.5" y2="508.0" stroke="#000" stroke-width="1.4"/><line x1="429.3" y1="491.8" x2="437.7" y2="491.8" stroke="#000" stroke-width="1.5"/><line x1="429.3" y1="508.0" x2="437.7" y2="508.0" stroke="#000" stroke-width="1.5"/>
<rect x="465.8" y="329.8" width="21.2" height="198.2" fill="url(#hatch)" stroke="#000" stroke-width="1.6"/><line x1="475.8" y1="322.6" x2="475.8" y2="335.7" stroke="#000" stroke-width="1.4"/><line x1="471.6" y1="322.6" x2="480.0" y2="322.6" stroke="#000" stroke-width="1.5"/><line x1="471.6" y1="335.7" x2="480.0" y2="335.7" stroke="#000" stroke-width="1.5"/>
<rect x="1.7" y="541.6" width="515.9" height="29.1" fill="none" stroke="#444" stroke-width="1.3"/>
<text x="15.2" y="563.6" font-size="17.5" text-anchor="start">Gal-1</text>
<text x="97.4" y="564.0" font-size="18.0" text-anchor="middle">-</text>
<text x="139.2" y="564.0" font-size="18.0" text-anchor="middle">+</text>
<text x="209.4" y="564.0" font-size="18.0" text-anchor="middle">-</text>
<text x="250.6" y="564.0" font-size="18.0" text-anchor="middle">+</text>
<text x="317.3" y="564.0" font-size="18.0" text-anchor="middle">-</text>
<text x="358.4" y="564.0" font-size="18.0" text-anchor="middle">+</text>
<text x="433.6" y="564.0" font-size="18.0" text-anchor="middle">-</text>
<text x="476.0" y="564.0" font-size="18.0" text-anchor="middle">+</text>
</svg>
</body></html>
